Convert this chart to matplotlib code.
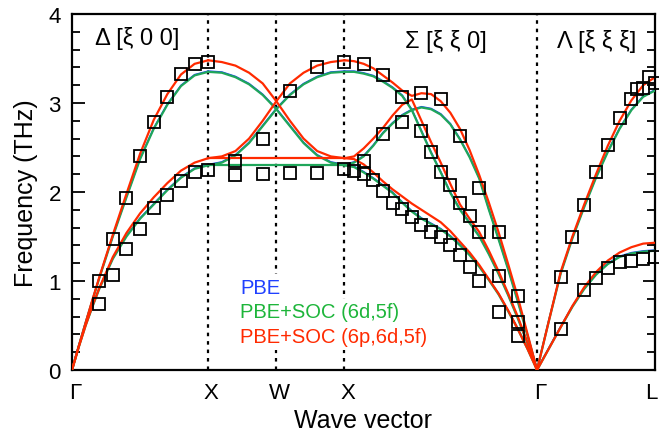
import numpy as np
from matplotlib.pyplot import figure, rcParams
from matplotlib.ticker import MultipleLocator, NullLocator
import matplotlib.transforms as mtransforms

rcParams['font.family'] = ['Liberation Sans', 'DejaVu Sans']

# High symmetry points along the path (units of 2pi/a)
GAMMA = 0.0
X1 = 1.0
W = 1.5
X2 = 2.0
GAMMA2 = 2.0 + np.sqrt(2)
L = GAMMA2 + np.sqrt(3) / 2

sym_points = [GAMMA, X1, W, X2, GAMMA2, L]
sym_labels = ['Γ', 'X', 'W', 'X', 'Γ', 'L']

# ---- calculated dispersion, fraction of each segment -> THz ----
# Delta [xi 0 0], Gamma -> X
q_delta = [0, 0.05, 0.1, 0.15, 0.2, 0.3, 0.4, 0.5, 0.6, 0.7, 0.8, 0.9, 1.0]
red_delta_la = [0, 0.27, 0.53, 0.79, 1.04, 1.52, 1.98, 2.43, 2.81, 3.10, 3.32, 3.44, 3.48]
red_delta_ta = [0, 0.26, 0.50, 0.72, 0.92, 1.27, 1.54, 1.76, 1.94, 2.10, 2.24, 2.33, 2.38]
green_delta_la = [0, 0.27, 0.53, 0.78, 1.03, 1.50, 1.94, 2.37, 2.71, 2.98, 3.19, 3.31, 3.35]
green_delta_ta = [0, 0.26, 0.50, 0.71, 0.91, 1.25, 1.50, 1.70, 1.86, 2.02, 2.16, 2.26, 2.30]

# X -> W -> X
q_xwx = [0, 0.1, 0.2, 0.3, 0.4, 0.5, 0.6, 0.7, 0.8, 0.9, 1.0]
red_xwx_down = [3.48, 3.46, 3.42, 3.34, 3.22, 3.02, 2.80, 2.60, 2.46, 2.40, 2.38]
red_xwx_up = [2.38, 2.40, 2.46, 2.60, 2.80, 3.02, 3.22, 3.34, 3.42, 3.46, 3.48]
red_xwx_flat = [2.38, 2.38, 2.38, 2.38, 2.38, 2.38, 2.38, 2.38, 2.38, 2.38, 2.38]
green_xwx_down = [3.35, 3.34, 3.29, 3.21, 3.09, 2.93, 2.74, 2.55, 2.41, 2.33, 2.30]
green_xwx_up = [2.30, 2.33, 2.41, 2.55, 2.74, 2.93, 3.09, 3.21, 3.29, 3.34, 3.35]
green_xwx_flat = [2.30, 2.30, 2.30, 2.30, 2.30, 2.30, 2.30, 2.30, 2.30, 2.30, 2.30]

# Sigma [xi xi 0], X -> Gamma
q_sigma = [0, 0.05, 0.1, 0.15, 0.2, 0.25, 0.3, 0.35, 0.4, 0.45, 0.5,
           0.55, 0.6, 0.65, 0.7, 0.75, 0.8, 0.85, 0.9, 0.95, 1.0]
red_sigma_1 = [3.48, 3.47, 3.44, 3.39, 3.31, 3.23, 3.14, 3.08, 3.11, 3.10, 3.02,
               2.89, 2.71, 2.47, 2.19, 1.88, 1.55, 1.19, 0.82, 0.41, 0.0]
red_sigma_2 = [2.38, 2.40, 2.49, 2.60, 2.72, 2.86, 2.98, 3.04, 2.80, 2.56, 2.33,
               2.09, 1.86, 1.70, 1.55, 1.34, 1.11, 0.86, 0.60, 0.31, 0.0]
red_sigma_3 = [2.38, 2.37, 2.31, 2.22, 2.12, 2.03, 1.95, 1.87, 1.80, 1.73, 1.66,
               1.56, 1.44, 1.32, 1.18, 1.02, 0.86, 0.67, 0.46, 0.24, 0.0]
green_sigma_1 = [3.35, 3.35, 3.33, 3.30, 3.24, 3.17, 3.08, 2.92, 2.68, 2.44, 2.22,
                 1.99, 1.80, 1.65, 1.50, 1.30, 1.08, 0.84, 0.58, 0.30, 0.0]
green_sigma_2 = [2.30, 2.33, 2.40, 2.52, 2.66, 2.77, 2.86, 2.92, 2.95, 2.93, 2.87,
                 2.76, 2.59, 2.39, 2.15, 1.80, 1.47, 1.13, 0.77, 0.39, 0.0]
green_sigma_3 = [2.30, 2.28, 2.22, 2.15, 2.07, 1.99, 1.88, 1.78, 1.70, 1.64, 1.58,
                 1.50, 1.40, 1.29, 1.16, 1.01, 0.85, 0.66, 0.46, 0.24, 0.0]

# Lambda [xi xi xi], Gamma -> L
q_lambda = [0, 0.1, 0.2, 0.3, 0.4, 0.5, 0.6, 0.7, 0.8, 0.9, 1.0]
red_lambda_la = [0, 0.55, 1.10, 1.50, 1.86, 2.20, 2.52, 2.80, 3.03, 3.20, 3.29]
red_lambda_ta = [0, 0.24, 0.48, 0.72, 0.93, 1.10, 1.23, 1.32, 1.38, 1.42, 1.43]
green_lambda_la = [0, 0.55, 1.08, 1.48, 1.83, 2.16, 2.45, 2.71, 2.92, 3.07, 3.14]
green_lambda_ta = [0, 0.24, 0.48, 0.71, 0.91, 1.07, 1.19, 1.27, 1.31, 1.33, 1.34]

# ---- measured points (squares) ----
exp_delta_q = [0.2, 0.3, 0.4, 0.5, 0.6, 0.7, 0.8, 0.9, 1.0]
exp_delta_la = [1.00, 1.47, 1.93, 2.41, 2.79, 3.07, 3.33, 3.44, 3.46]
exp_delta_ta = [0.74, 1.07, 1.36, 1.58, 1.82, 1.97, 2.12, 2.23, 2.25]

exp_xwx_q = [0.2, 0.4, 0.6, 0.8, 1.0]
exp_xwx_up = [2.35, 2.60, 3.14, 3.41, 3.46]
exp_xwx_flat = [2.19, 2.20, 2.21, 2.21, 2.26]

exp_sigma_q1 = [0.1, 0.2, 0.3, 0.4, 0.5, 0.6, 0.7, 0.8, 0.9]
exp_sigma_1 = [3.44, 3.31, 3.07, 3.11, 3.04, 2.63, 2.05, 1.55, 0.835]
exp_sigma_q2 = [0.1, 0.2, 0.3, 0.4, 0.45, 0.5, 0.55, 0.6, 0.65, 0.7, 0.8, 0.9]
exp_sigma_2 = [2.35, 2.65, 2.79, 2.69, 2.45, 2.23, 2.08, 1.88, 1.73, 1.55, 1.06, 0.54]
exp_sigma_q3 = [0.05, 0.1, 0.15, 0.2, 0.25, 0.3, 0.35, 0.4, 0.45, 0.5,
                0.55, 0.6, 0.65, 0.7, 0.8, 0.9]
exp_sigma_3 = [2.24, 2.20, 2.13, 2.01, 1.88, 1.81, 1.72, 1.63, 1.55, 1.49,
               1.40, 1.29, 1.16, 1.00, 0.655, 0.38]

exp_lambda_q1 = [0.2, 0.3, 0.4, 0.5, 0.6, 0.7, 0.8, 0.85, 0.9, 0.95, 1.0]
exp_lambda_1 = [1.05, 1.49, 1.85, 2.23, 2.53, 2.83, 3.04, 3.16, 3.17, 3.29, 3.23]
exp_lambda_q2 = [0.2, 0.4, 0.5, 0.6, 0.7, 0.8, 0.9, 1.0]
exp_lambda_2 = [0.46, 0.90, 1.03, 1.15, 1.21, 1.23, 1.25, 1.27]

BLUE = '#2040ff'
GREEN = '#1fa65a'
GREEN_TEXT = '#1db53a'
RED = '#ff2a00'


def seg(q, start, end):
    """Map fraction along a segment onto the path coordinate"""
    return start + np.asarray(q) * (end - start)


def calc_curves(model):
    """Returns list of (x, y) for all branches of one calculation"""
    d = globals()
    out = []
    for name in ['delta_la', 'delta_ta']:
        out.append((seg(q_delta, GAMMA, X1), d[f'{model}_{name}']))
    for name in ['xwx_down', 'xwx_up', 'xwx_flat']:
        out.append((seg(q_xwx, X1, X2), d[f'{model}_{name}']))
    for name in ['sigma_1', 'sigma_2', 'sigma_3']:
        out.append((seg(q_sigma, X2, GAMMA2), d[f'{model}_{name}']))
    for name in ['lambda_la', 'lambda_ta']:
        out.append((seg(q_lambda, GAMMA2, L), d[f'{model}_{name}']))
    return out


def plot_dispersion():
    fig = figure(figsize=(6.59, 4.35), dpi=100)
    frame = fig.add_axes([72 / 659, 64 / 435, 583 / 659, 356 / 435])

    # PBE sits right on top of PBE+SOC (6d,5f) at this scale, shift it a hair up
    up = frame.transData + mtransforms.ScaledTranslation(0, 0.5 / 72, fig.dpi_scale_trans)
    for x, y in calc_curves('green'):
        frame.plot(x, y, color=BLUE, lw=1.2, transform=up, zorder=2)
        frame.plot(x, y, color=GREEN, lw=1.6, zorder=3)
    for x, y in calc_curves('red'):
        frame.plot(x, y, color=RED, lw=1.6, zorder=4)

    # Experimental squares
    exp = [
        (seg(exp_delta_q, GAMMA, X1), exp_delta_la),
        (seg(exp_delta_q, GAMMA, X1), exp_delta_ta),
        (seg(exp_xwx_q, X1, X2), exp_xwx_up),
        (seg(exp_xwx_q, X1, X2), exp_xwx_flat),
        (seg(exp_sigma_q1, X2, GAMMA2), exp_sigma_1),
        (seg(exp_sigma_q2, X2, GAMMA2), exp_sigma_2),
        (seg(exp_sigma_q3, X2, GAMMA2), exp_sigma_3),
        (seg(exp_lambda_q1, GAMMA2, L), exp_lambda_1),
        (seg(exp_lambda_q2, GAMMA2, L), exp_lambda_2),
    ]
    for x, y in exp:
        frame.plot(x, y, ls='none', marker='s', ms=8, mfc='none', mec='black',
                   mew=1.3, zorder=5, clip_on=False)

    # Dotted lines at the inner high symmetry points
    for xp in sym_points[1:-1]:
        frame.axvline(xp, color='black', lw=1.6, ls=(0, (1.6, 2.2)), zorder=1)

    frame.set_xlim(GAMMA, L)
    frame.set_ylim(0, 4)
    frame.set_xticks(sym_points)
    frame.set_xticklabels(sym_labels)
    frame.yaxis.set_major_locator(MultipleLocator(1))
    frame.yaxis.set_minor_locator(MultipleLocator(0.2))
    frame.xaxis.set_minor_locator(NullLocator())
    frame.tick_params(axis='y', which='both', direction='in', left=True, right=True,
                      width=1.3, labelsize=16, pad=8)
    frame.tick_params(axis='y', which='major', length=9)
    frame.tick_params(axis='y', which='minor', length=6)
    frame.tick_params(axis='x', length=0, labelsize=16, pad=9)
    for spine in frame.spines.values():
        spine.set_linewidth(1.6)

    # x labels sit a little right of the points, L is pulled in to stay inside
    labels = frame.get_xticklabels()
    for i, lab in enumerate(labels):
        dx = -2.5 if i == len(labels) - 1 else 2.2
        lab.set_transform(lab.get_transform() + mtransforms.ScaledTranslation(dx / 72, 0, fig.dpi_scale_trans))

    frame.set_ylabel('Frequency (THz)', fontsize=18)
    frame.yaxis.set_label_coords(-0.058, 0.5)
    frame.set_xlabel('Wave vector', fontsize=18, labelpad=3)

    # Direction labels
    frame.text(0.039, 0.934, 'Δ [ξ 0 0]', transform=frame.transAxes, fontsize=17, va='center')
    frame.text(0.571, 0.925, 'Σ [ξ ξ 0]', transform=frame.transAxes, fontsize=17, va='center')
    frame.text(0.832, 0.925, 'Λ [ξ ξ ξ]', transform=frame.transAxes, fontsize=17, va='center')

    # Legend as coloured text on white, hiding the dotted lines behind it
    box = dict(facecolor='white', edgecolor='none', pad=2.5)
    frame.text(0.288, 0.233, 'PBE', color=BLUE, transform=frame.transAxes,
               fontsize=14.5, va='center', bbox=box, zorder=6)
    frame.text(0.288, 0.163, 'PBE+SOC (6d,5f)', color=GREEN_TEXT, transform=frame.transAxes,
               fontsize=14.5, va='center', bbox=box, zorder=6)
    frame.text(0.288, 0.093, 'PBE+SOC (6p,6d,5f)', color=RED, transform=frame.transAxes,
               fontsize=14.5, va='center', bbox=box, zorder=6)

    fig.savefig('out.png', dpi=100)


if __name__ == "__main__":
    plot_dispersion()
